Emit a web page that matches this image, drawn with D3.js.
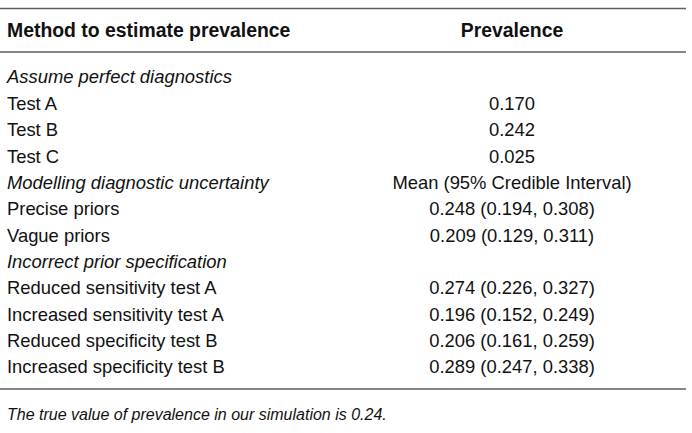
<!DOCTYPE html>
<html>
<head>
<meta charset="utf-8">
<script src="https://cdn.jsdelivr.net/npm/d3@7"></script>
<style>
  body { margin: 0; background: #fff; }
  text { font-family: "Liberation Sans", Arial, Helvetica, sans-serif; fill: #111; }
</style>
</head>
<body>
<script>
// table contents
var headers = ["Method to estimate prevalence", "Prevalence"];
var methods = [
  "Assume perfect diagnostics",
  "Test A",
  "Test B",
  "Test C",
  "Modelling diagnostic uncertainty",
  "Precise priors",
  "Vague priors",
  "Incorrect prior specification",
  "Reduced sensitivity test A",
  "Increased sensitivity test A",
  "Reduced specificity test B",
  "Increased specificity test B"
];
var prevalence = [
  "", "0.170", "0.242", "0.025",
  "Mean (95% Credible Interval)",
  "0.248 (0.194, 0.308)", "0.209 (0.129, 0.311)",
  "",
  "0.274 (0.226, 0.327)", "0.196 (0.152, 0.249)",
  "0.206 (0.161, 0.259)", "0.289 (0.247, 0.338)"
];
var groupRows = [0, 4, 7]; // italic section labels
var footnote = "The true value of prevalence in our simulation is 0.24.";

var width = 692, height = 433;

var svg = d3.select("body").append("svg")
    .attr("width", width)
    .attr("height", height);

// row positions (centre of each text line)
var y = d3.scalePoint()
    .domain(d3.range(methods.length))
    .range([77, 367]);

var col2 = 512;
var fs = 18.4;

// horizontal rules: top, under header, under body
var rules = [8.5, 52, 389];
svg.selectAll(".rule")
    .data(rules)
    .enter().append("line")
    .attr("class", "rule")
    .attr("x1", 0)
    .attr("x2", 686)
    .attr("y1", function(d) { return d; })
    .attr("y2", function(d) { return d; })
    .attr("stroke", "#5e5e5e")
    .attr("stroke-width", 1.7);

// header
svg.append("text")
    .attr("x", 7).attr("y", 30.5)
    .attr("dy", "0.35em")
    .attr("font-size", 19.4)
    .attr("font-weight", "bold")
    .text(headers[0]);
svg.append("text")
    .attr("x", col2).attr("y", 30.5)
    .attr("dy", "0.35em")
    .attr("text-anchor", "middle")
    .attr("font-size", 19.4)
    .attr("font-weight", "bold")
    .text(headers[1]);

// body rows
svg.selectAll(".method")
    .data(methods)
    .enter().append("text")
    .attr("class", "method")
    .attr("x", 7)
    .attr("y", function(d, i) { return y(i); })
    .attr("dy", "0.35em")
    .attr("font-size", fs)
    .attr("font-style", function(d, i) { return groupRows.indexOf(i) >= 0 ? "italic" : "normal"; })
    .text(function(d) { return d; });

svg.selectAll(".prev")
    .data(prevalence)
    .enter().append("text")
    .attr("class", "prev")
    .attr("x", col2)
    .attr("y", function(d, i) { return y(i); })
    .attr("dy", "0.35em")
    .attr("text-anchor", "middle")
    .attr("font-size", fs)
    .text(function(d) { return d; });

// footnote
svg.append("text")
    .attr("x", 7).attr("y", 414)
    .attr("dy", "0.35em")
    .attr("font-size", 16)
    .attr("font-style", "italic")
    .text(footnote);
</script>
</body>
</html>
